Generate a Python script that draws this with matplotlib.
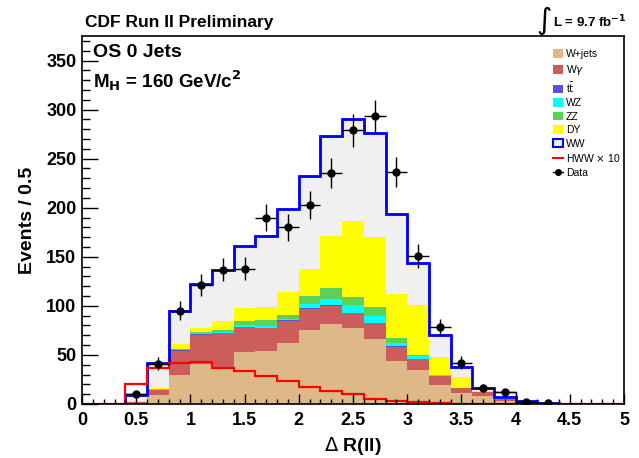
import matplotlib
matplotlib.use("Agg")
import matplotlib.pyplot as plt
from matplotlib.patches import Patch
from matplotlib.lines import Line2D
from matplotlib.ticker import MultipleLocator, FuncFormatter
import numpy as np

plt.rcParams['font.family'] = ['Liberation Sans', 'DejaVu Sans']

# bin edges 0.0 .. 5.0, width 0.2
edges = np.round(np.arange(0, 5.01, 0.2), 2)

# stacked backgrounds, bottom to top
wjets = [0, 0, 1, 9.5, 29.6, 40.5, 37, 52.7, 54.4, 62, 75.5, 81.3, 77.2, 66, 43.9, 34.7, 19.4, 10.9, 8, 3.5, 1.5, 0.5, 0, 0, 0]
wgamma = [0, 0, 1, 4.5, 24.8, 30, 35, 25.5, 23, 22.7, 21.4, 19, 15.3, 16.3, 14.6, 11.2, 9.2, 5, 4, 1.5, 0.5, 0, 0, 0, 0]
ttbar = [0, 0, 0.1, 0.3, 0.3, 0.4, 0.4, 0.5, 0.5, 0.5, 0.5, 0.5, 0.5, 0.5, 0.5, 0.3, 0.2, 0.1, 0.1, 0, 0, 0, 0, 0, 0]
wz = [0, 0, 0.1, 0.5, 0.8, 1.2, 1, 1.5, 1.5, 1.5, 4.6, 6, 7.7, 7, 3.6, 2.8, 0.5, 0.3, 0.2, 0.1, 0, 0, 0, 0, 0]
zz = [0, 0, 0.1, 0.5, 0.5, 1, 2, 4.5, 6.5, 4, 8, 11.2, 8, 9.5, 5.1, 1, 0.3, 0.3, 0.1, 0, 0, 0, 0, 0, 0]
dy = [0, 0, 0.5, 1.5, 5, 4.5, 9, 13.3, 12.6, 23, 27.4, 53.4, 77.3, 70.7, 44.5, 51, 18.7, 11.3, 0.5, 0.2, 0, 0, 0, 0, 0]
ww = [0, 0, 6.4, 24.7, 34, 44.4, 52.6, 62.5, 72.5, 85.3, 94.6, 102.1, 104.5, 106, 81.8, 43, 22.1, 10.1, 3.5, 2.2, 1.4, 0.8, 0, 0, 0]

# black outline seen under the blue one
outline = [0, 0, 10, 41.5, 95, 122, 137, 160.5, 171, 199, 232, 273.5, 290.5, 276, 194, 144, 70.4, 38, 16.5, 12, 3.4, 1.3, 0, 0, 0]

# signal x10
hww10 = [0, 0, 20.1, 36.4, 41.5, 42.9, 37.1, 33.2, 28.1, 23, 17, 13.3, 9.9, 4.7, 3, 1.7, 0.7, 0.4, 0.2, 0.1, 0, 0, 0, 0, 0]

# data
data_x = [0.5, 0.7, 0.9, 1.1, 1.3, 1.5, 1.7, 1.9, 2.1, 2.3, 2.5, 2.7, 2.9, 3.1, 3.3, 3.5, 3.7, 3.9, 4.1, 4.3]
data_y = [10, 41, 95, 121, 137, 138, 190, 180, 203, 235, 279, 293, 236, 151, 78, 42, 16, 12, 2, 1]

components = [
    ("W+jets", wjets, "#deb887"),
    ("W$\\gamma$", wgamma, "#cd5c5c"),
    ("t$\\bar{\\rm t}$", ttbar, "#5a50dc"),
    ("WZ", wz, "#00ffff"),
    ("ZZ", zz, "#5ad25a"),
    ("DY", dy, "#ffff00"),
    ("WW", ww, "#f0f0f0"),
]

fig = plt.figure(figsize=(6.39, 4.58), dpi=100)
ax = fig.add_axes([82 / 639, 1 - 404 / 458, 542 / 639, 368 / 458])

base = np.zeros(len(edges) - 1)
for name, vals, col in components:
    vals = np.asarray(vals, dtype=float)
    ax.stairs(base + vals, edges, baseline=base, fill=True, color=col, lw=0)
    base = base + vals

ax.stairs(outline, edges, baseline=0, color="black", lw=1)
ax.stairs(base, edges, baseline=0, color="#0000ff", lw=2)
ax.stairs(hww10, edges, baseline=None, color="#ff0000", lw=1.6)

yerr = np.sqrt(data_y)
ax.errorbar(data_x, data_y, xerr=0.1, yerr=yerr, fmt="o", color="black",
            ms=5, elinewidth=1, capsize=0, zorder=5)

ax.set_xlim(0, 5)
ax.set_ylim(0, 375)
ax.xaxis.set_major_locator(MultipleLocator(0.5))
ax.xaxis.set_minor_locator(MultipleLocator(0.1))
ax.yaxis.set_major_locator(MultipleLocator(50))
ax.yaxis.set_minor_locator(MultipleLocator(10))
ax.xaxis.set_major_formatter(FuncFormatter(lambda v, p: "%g" % v))
ax.tick_params(which="both", direction="in", top=False, right=False, labelsize=13)
ax.tick_params(axis="x", which="major", length=7, width=1, pad=6)
ax.tick_params(axis="x", which="minor", length=3.6, width=1)
ax.tick_params(axis="y", which="major", length=11.5, width=1, pad=4)
ax.tick_params(axis="y", which="minor", length=5.8, width=1)
for lab in ax.get_xticklabels() + ax.get_yticklabels():
    lab.set_fontweight("bold")
for sp in ax.spines.values():
    sp.set_linewidth(1.2)

ax.set_xlabel("$\\Delta$ R(ll)", fontsize=14, fontweight="bold", labelpad=4)
ax.set_ylabel("Events / 0.5", fontsize=14, fontweight="bold", labelpad=7)

fig.text(85 / 639, 1 - 22 / 458, "CDF Run II Preliminary", fontsize=12.5,
         fontweight="bold", va="center", ha="left")
fig.text(536 / 639, 1 - 21 / 458, "$\\int$", fontsize=15, va="center", ha="left")
fig.text(553 / 639, 1 - 22 / 458, "L = 9.7 fb$^{\\mathbf{-1}}$", fontsize=9.5,
         fontweight="bold", va="center", ha="left")
ax.text(0.02, 0.955, "OS 0 Jets", transform=ax.transAxes, fontsize=14,
        fontweight="bold", va="center", ha="left")
ax.text(0.02, 0.88, "M$_{\\mathbf{H}}$ = 160 GeV/c$^{\\mathbf{2}}$", transform=ax.transAxes,
        fontsize=13.5, fontweight="bold", va="center", ha="left")

handles = [Patch(facecolor=c, edgecolor="none") for _, _, c in components[:-1]]
handles.append(Patch(facecolor="#f0f0f0", edgecolor="#0000ff", lw=1.5))
handles.append(Line2D([], [], color="#ff0000", lw=1.5))
handles.append(Line2D([], [], color="black", marker="o", ms=4, lw=1))
labels = [n for n, _, _ in components] + ["HWW $\\times$ 10", "Data"]
ax.legend(handles, labels, loc="upper left", bbox_to_anchor=(0.862, 0.975),
          frameon=False, fontsize=7.5, handlelength=0.9, handleheight=0.9,
          handletextpad=0.3, labelspacing=0.34, borderaxespad=0)

fig.savefig("out.png", dpi=100)
